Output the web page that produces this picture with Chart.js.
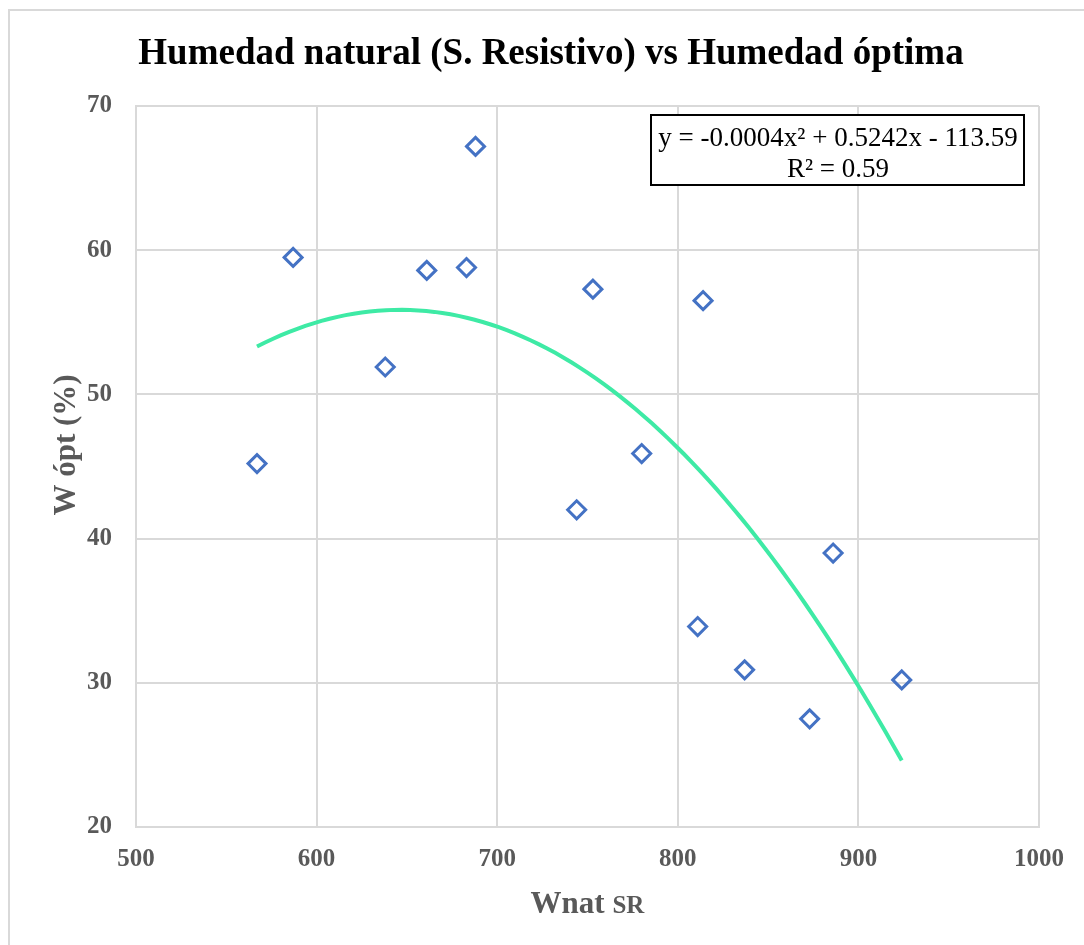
<!DOCTYPE html>
<html>
<head>
<meta charset="utf-8">
<script src="https://cdn.jsdelivr.net/npm/chart.js@4/dist/chart.umd.min.js"></script>
<style>
  html, body { margin: 0; padding: 0; background: #fff; }
  #wrap { position: relative; width: 1084px; height: 945px; }
</style>
</head>
<body>
<div id="wrap"><canvas id="myChart" width="1084" height="945"></canvas></div>
<script>
// Humedad natural (S. Resistivo) vs Humedad óptima
const wnat = [567, 587, 638, 661, 683, 688, 744, 753, 780, 814, 811, 837, 873, 886, 924];
const wopt = [45.2, 59.5, 51.9, 58.6, 58.8, 67.2, 42.0, 57.3, 45.9, 56.5, 33.9, 30.9, 27.5, 39.0, 30.2];
const xTicks = [500, 600, 700, 800, 900, 1000];
const yTicks = [20, 30, 40, 50, 60, 70];
const eqLines = ["y = -0.0004x² + 0.5242x - 113.59", "R² = 0.59"];

// least squares fit y = a x² + b x + c
function polyFit2(xs, ys) {
  let s = [0, 0, 0, 0, 0], t = [0, 0, 0];
  xs.forEach((x, i) => {
    for (let k = 0; k < 5; k++) s[k] += Math.pow(x, k);
    for (let k = 0; k < 3; k++) t[k] += Math.pow(x, k) * ys[i];
  });
  const m = [[s[0], s[1], s[2], t[0]], [s[1], s[2], s[3], t[1]], [s[2], s[3], s[4], t[2]]];
  for (let i = 0; i < 3; i++) {
    for (let j = i + 1; j < 3; j++) {
      const f = m[j][i] / m[i][i];
      for (let k = i; k < 4; k++) m[j][k] -= f * m[i][k];
    }
  }
  const r = [0, 0, 0];
  for (let i = 2; i >= 0; i--) {
    let v = m[i][3];
    for (let k = i + 1; k < 3; k++) v -= m[i][k] * r[k];
    r[i] = v / m[i][i];
  }
  return r; // [c, b, a]
}

const [c0, c1, c2] = polyFit2(wnat, wopt);
const xMin = Math.min(...wnat), xMax = Math.max(...wnat);
const trend = [];
for (let i = 0; i <= 80; i++) {
  const x = xMin + (xMax - xMin) * i / 80;
  trend.push({ x: x, y: c0 + c1 * x + c2 * x * x });
}

const gray = '#595959';
const gridColor = '#d9d9d9';

const decorations = {
  id: 'decorations',
  beforeDraw(chart) {
    const ctx = chart.ctx;
    ctx.save();
    ctx.fillStyle = '#fff';
    ctx.fillRect(0, 0, chart.width, chart.height);
    // outer frame
    ctx.strokeStyle = gridColor;
    ctx.lineWidth = 2;
    ctx.beginPath();
    ctx.moveTo(9, chart.height + 5);
    ctx.lineTo(9, 10);
    ctx.lineTo(chart.width + 5, 10);
    ctx.stroke();
    ctx.restore();
  },
  afterDraw(chart) {
    const ctx = chart.ctx;
    const area = chart.chartArea;
    ctx.save();
    // title
    ctx.fillStyle = '#000';
    ctx.font = 'bold 37px "Liberation Serif"';
    ctx.textAlign = 'center';
    ctx.textBaseline = 'alphabetic';
    ctx.fillText('Humedad natural (S. Resistivo) vs Humedad óptima', 551, 64);

    // y axis title
    ctx.fillStyle = gray;
    ctx.save();
    ctx.translate(75, 445);
    ctx.rotate(-Math.PI / 2);
    ctx.font = 'bold 31px "Liberation Serif"';
    ctx.fillText('W ópt (%)', 0, 0);
    ctx.restore();

    // x axis title with smaller subscript part
    ctx.font = 'bold 31px "Liberation Serif"';
    const w1 = ctx.measureText('Wnat ').width;
    ctx.font = 'bold 25px "Liberation Serif"';
    const w2 = ctx.measureText('SR').width;
    const cx = (area.left + area.right) / 2;
    let x0 = cx - (w1 + w2) / 2;
    ctx.textAlign = 'left';
    ctx.font = 'bold 31px "Liberation Serif"';
    ctx.fillText('Wnat ', x0, 913);
    ctx.font = 'bold 25px "Liberation Serif"';
    ctx.fillText('SR', x0 + w1, 913);

    // equation box
    ctx.fillStyle = '#fff';
    ctx.fillRect(651, 115, 373, 70);
    ctx.strokeStyle = '#000';
    ctx.lineWidth = 2;
    ctx.strokeRect(651, 115, 373, 70);
    ctx.fillStyle = '#000';
    ctx.font = '27px "Liberation Serif"';
    ctx.textAlign = 'center';
    ctx.fillText(eqLines[0], 838, 146);
    ctx.fillText(eqLines[1], 838, 177);
    ctx.restore();
  }
};

const ctx = document.getElementById('myChart').getContext('2d');
new Chart(ctx, {
  type: 'scatter',
  data: {
    datasets: [
      {
        label: 'W ópt',
        data: wnat.map((x, i) => ({ x: x, y: wopt[i] })),
        pointStyle: 'rectRot',
        pointRadius: 9,
        pointHoverRadius: 9,
        borderColor: '#4472C4',
        backgroundColor: 'rgba(255,255,255,0)',
        pointBorderWidth: 3,
        order: 1
      },
      {
        label: 'Polinómica',
        data: trend,
        showLine: true,
        borderColor: '#3EEAA5',
        borderWidth: 4,
        pointRadius: 0,
        tension: 0,
        fill: false,
        order: 2
      }
    ]
  },
  options: {
    responsive: false,
    animation: false,
    layout: { padding: { left: 0, top: 106, right: 45, bottom: 0 } },
    plugins: {
      legend: { display: false },
      tooltip: { enabled: false },
      title: { display: false }
    },
    scales: {
      x: {
        type: 'linear',
        min: 500,
        max: 1000,
        afterFit: s => { s.height = 118; },
        afterBuildTicks: s => { s.ticks = xTicks.map(v => ({ value: v })); },
        grid: { color: gridColor, lineWidth: 2, drawTicks: false },
        border: { color: gridColor, width: 2 },
        ticks: {
          color: gray,
          padding: 18,
          callback: v => String(v),
          font: { family: 'Liberation Serif', size: 25, weight: 'bold' }
        }
      },
      y: {
        type: 'linear',
        min: 20,
        max: 70,
        afterFit: s => { s.width = 136; },
        afterBuildTicks: s => { s.ticks = yTicks.map(v => ({ value: v })); },
        grid: { color: gridColor, lineWidth: 2, drawTicks: false },
        border: { color: gridColor, width: 2 },
        ticks: {
          color: gray,
          padding: 24,
          callback: v => String(v),
          font: { family: 'Liberation Serif', size: 25, weight: 'bold' }
        }
      }
    }
  },
  plugins: [decorations]
});
</script>
</body>
</html>
